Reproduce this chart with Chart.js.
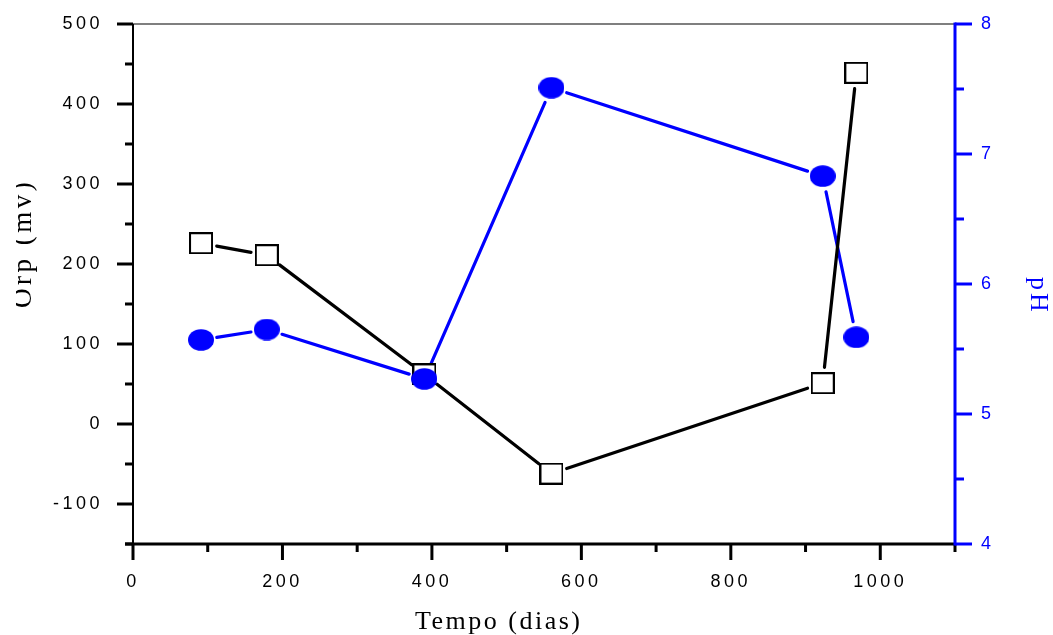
<!DOCTYPE html>
<html>
<head>
<meta charset="utf-8">
<script src="https://cdn.jsdelivr.net/npm/chart.js@4"></script>
<style>
  html, body { margin: 0; padding: 0; background: #fff; }
  #wrap { width: 1053px; height: 635px; }
</style>
</head>
<body>
<div id="wrap"><canvas id="chart" width="1053" height="635"></canvas></div>
<script>
// values
const days = [91, 179, 390, 560, 923, 968];
const orpValues = [226, 211, 62, -62, 51, 439];
const phValues = [5.57, 5.65, 5.27, 7.51, 6.83, 5.59];

const xTicks = [0, 200, 400, 600, 800, 1000];
const xMinor = [100, 300, 500, 700, 900, 1100];
const orpTicks = [-100, 0, 100, 200, 300, 400, 500];
const orpMinor = [-150, -50, 50, 150, 250, 350, 450];
const phTicks = [4, 5, 6, 7, 8];
const phMinor = [4.5, 5.5, 6.5, 7.5];

const BLUE = '#0000ff';
const SANS = "'Liberation Sans', Arial, sans-serif";
const SERIF = "'Liberation Serif', 'Times New Roman', serif";

// marker images
function squareMarker() {
  const c = document.createElement('canvas');
  c.width = 24; c.height = 22;
  const g = c.getContext('2d');
  g.fillStyle = '#fff';
  g.fillRect(1, 1, 22, 20);
  g.strokeStyle = '#000';
  g.lineWidth = 2;
  g.strokeRect(1, 1, 22, 20);
  return c;
}
function ellipseMarker() {
  const c = document.createElement('canvas');
  c.width = 26; c.height = 22;
  const g = c.getContext('2d');
  g.fillStyle = BLUE;
  g.beginPath();
  g.ellipse(13, 11, 13, 10.8, 0, 0, Math.PI * 2);
  g.fill();
  return c;
}

function pairs(ys) {
  return days.map((d, i) => ({ x: d, y: ys[i] }));
}

// lines between markers, stopped short of each marker (Origin style)
const gappedLines = {
  id: 'gappedLines',
  beforeDatasetsDraw(chart) {
    const ctx = chart.ctx;
    chart.data.datasets.forEach((ds, i) => {
      const pts = chart.getDatasetMeta(i).data;
      ctx.save();
      ctx.strokeStyle = ds.lineColor;
      ctx.lineWidth = 3.2;
      ctx.lineCap = 'round';
      for (let k = 0; k < pts.length - 1; k++) {
        const a = pts[k], b = pts[k + 1];
        const dx = b.x - a.x, dy = b.y - a.y;
        const len = Math.hypot(dx, dy);
        const gap = 16;
        if (len <= gap * 2) continue;
        const ux = dx / len, uy = dy / len;
        ctx.beginPath();
        ctx.moveTo(a.x + ux * gap, a.y + uy * gap);
        ctx.lineTo(b.x - ux * gap, b.y - uy * gap);
        ctx.stroke();
      }
      ctx.restore();
    });
  }
};

// axis lines, major/minor ticks and axis titles
const frame = {
  id: 'frame',
  beforeDraw(chart) {
    chart.ctx.letterSpacing = '3.5px';
  },
  afterDraw(chart) {
    const ctx = chart.ctx;
    const { left, right, top, bottom } = chart.chartArea;
    const sx = chart.scales.x, sy = chart.scales.y, sp = chart.scales.y1;
    ctx.save();
    ctx.letterSpacing = '0px';
    ctx.lineCap = 'butt';

    // top border
    ctx.strokeStyle = '#000';
    ctx.lineWidth = 1.2;
    ctx.beginPath(); ctx.moveTo(left, top); ctx.lineTo(right, top); ctx.stroke();
    // left axis
    ctx.lineWidth = 2;
    ctx.beginPath(); ctx.moveTo(left, top); ctx.lineTo(left, bottom); ctx.stroke();
    // bottom axis
    ctx.lineWidth = 3;
    ctx.beginPath(); ctx.moveTo(left - 8, bottom); ctx.lineTo(right, bottom); ctx.stroke();

    ctx.lineWidth = 3;
    const tick = (x1, y1, x2, y2) => { ctx.beginPath(); ctx.moveTo(x1, y1); ctx.lineTo(x2, y2); ctx.stroke(); };
    xTicks.forEach(v => { const x = sx.getPixelForValue(v); tick(x, bottom, x, bottom + 16); });
    xMinor.forEach(v => { const x = sx.getPixelForValue(v); tick(x, bottom, x, bottom + 8); });
    orpTicks.forEach(v => { const y = sy.getPixelForValue(v); tick(left, y, left - 16, y); });
    orpMinor.forEach(v => { const y = sy.getPixelForValue(v); tick(left, y, left - 8, y); });

    // right axis in blue
    ctx.strokeStyle = BLUE;
    ctx.beginPath(); ctx.moveTo(right, top - 1.5); ctx.lineTo(right, bottom + 1.5); ctx.stroke();
    phTicks.forEach(v => { const y = sp.getPixelForValue(v); tick(right, y, right + 17, y); });
    phMinor.forEach(v => { const y = sp.getPixelForValue(v); tick(right, y, right + 9, y); });

    // titles
    ctx.textBaseline = 'alphabetic';
    ctx.textAlign = 'left';
    ctx.font = '26px ' + SERIF;
    ctx.fillStyle = '#000';
    ctx.letterSpacing = '2.5px';
    ctx.fillText('Tempo (dias)', 415, 629);

    ctx.save();
    ctx.beginPath(); ctx.rect(16, 0, 200, 635); ctx.clip();
    ctx.translate(31, 308);
    ctx.rotate(-Math.PI / 2);
    ctx.font = '27px ' + SERIF;
    ctx.letterSpacing = '3.5px';
    ctx.fillText('Orp (mv)', 0, 0);
    ctx.restore();

    ctx.save();
    ctx.fillStyle = BLUE;
    ctx.translate(1031, 277);
    ctx.rotate(Math.PI / 2);
    ctx.letterSpacing = '3px';
    ctx.fillText('pH', 0, 0);
    ctx.restore();

    ctx.restore();
  }
};

const tickFont = { family: SANS, size: 18 };
const plain = v => String(v);
const noVPad = s => { s.paddingTop = 0; s.paddingBottom = 0; };

new Chart(document.getElementById('chart'), {
  type: 'scatter',
  data: {
    datasets: [
      {
        label: 'pH',
        data: pairs(phValues),
        yAxisID: 'y1',
        order: 0,
        showLine: false,
        lineColor: BLUE,
        pointStyle: ellipseMarker(),
        pointRadius: 12,
        pointHoverRadius: 12
      },
      {
        label: 'Orp',
        data: pairs(orpValues),
        yAxisID: 'y',
        order: 1,
        showLine: false,
        lineColor: '#000',
        pointStyle: squareMarker(),
        pointRadius: 12,
        pointHoverRadius: 12
      }
    ]
  },
  options: {
    responsive: false,
    animation: false,
    events: [],
    layout: { padding: { top: 24, right: 0, bottom: 0, left: 0 } },
    plugins: { legend: { display: false }, tooltip: { enabled: false } },
    scales: {
      x: {
        type: 'linear',
        position: 'bottom',
        min: 0,
        max: 1100,
        grid: { display: false, drawTicks: false },
        border: { display: false },
        afterBuildTicks: s => { s.ticks = xTicks.map(v => ({ value: v })); },
        afterFit: s => { s.height = 91; s.paddingLeft = 0; s.paddingRight = 0; },
        ticks: { color: '#000', font: tickFont, padding: 27, maxRotation: 0, callback: plain }
      },
      y: {
        type: 'linear',
        position: 'left',
        min: -150,
        max: 500,
        grid: { display: false, drawTicks: false },
        border: { display: false },
        afterBuildTicks: s => { s.ticks = orpTicks.map(v => ({ value: v })); },
        afterFit: s => { s.width = 133; noVPad(s); },
        ticks: { color: '#000', font: tickFont, padding: 30, callback: plain }
      },
      y1: {
        type: 'linear',
        position: 'right',
        min: 4,
        max: 8,
        grid: { display: false, drawTicks: false },
        border: { display: false },
        afterBuildTicks: s => { s.ticks = phTicks.map(v => ({ value: v })); },
        afterFit: s => { s.width = 98; noVPad(s); },
        ticks: { color: BLUE, font: tickFont, padding: 26, callback: plain }
      }
    }
  },
  plugins: [gappedLines, frame]
});
</script>
</body>
</html>
